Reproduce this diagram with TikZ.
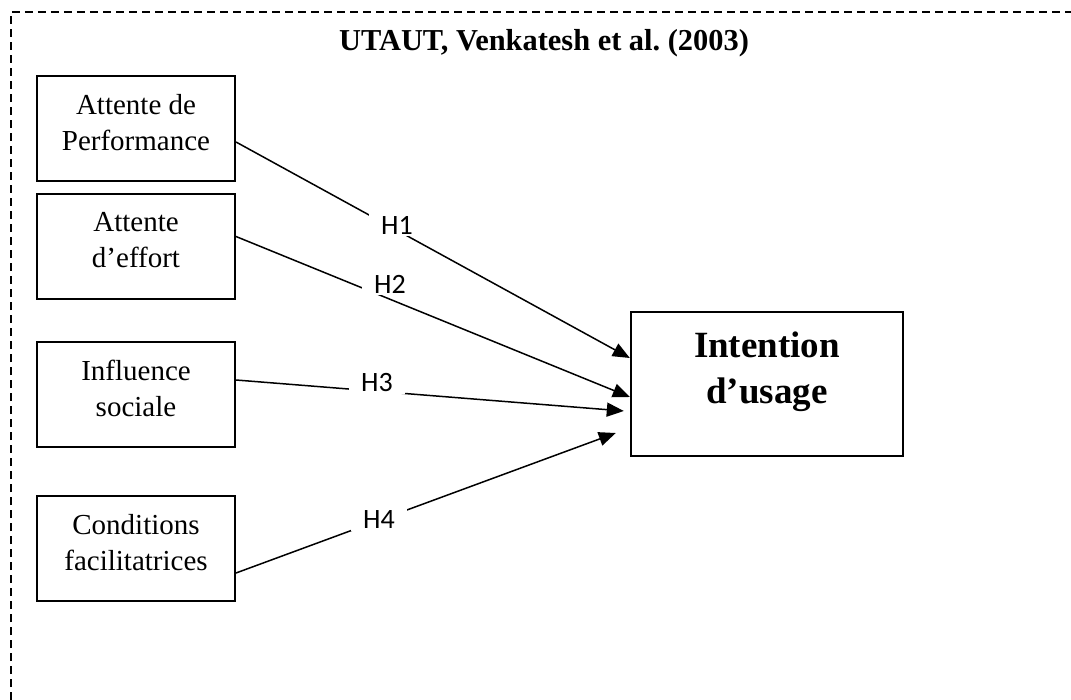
\documentclass[tikz,border=0pt]{standalone}
\usepackage{fontspec}
\setmainfont{Liberation Serif}
\newfontfamily\hypfont{Carlito}
\usetikzlibrary{arrows.meta}
\tikzset{
  cadre/.style={draw,line width=1pt,minimum width=99pt,minimum height=52.5pt,inner sep=0pt},
  texte/.style={align=center,font=\fontsize{14.5}{18}\selectfont},
  fleche/.style={-{Triangle[length=8.5pt,width=7pt]},line width=0.75pt},
  hyp/.style={fill=white,inner xsep=6pt,inner ysep=1pt,font=\hypfont\fontsize{14}{16}\selectfont},
}
\newcommand{\facteur}[3]{\node[cadre] (#1) at (#2) {};
  \node[texte] (#1txt) at ([yshift=3pt]#1.center) {#3};}

\begin{document}
\begin{tikzpicture}[x=0.5pt,y=-0.5pt]
\useasboundingbox (0,0) rectangle (1071,700);
% ---- cadre pointille (ouvert a droite et en bas) ----
\draw[line width=1pt,dash pattern=on 4pt off 2.5pt] (11,700) -- (11,12) -- (1080,12);
\node[font=\fontsize{15.2}{18}\selectfont\bfseries] (titre) at (544,43) {UTAUT, Venkatesh et al.\ (2003)};
% ---- facteurs ----
\facteur{perf}{136,128.5}{Attente de\\Performance}
\facteur{effort}{136,246.5}{Attente\\d’effort}
\facteur{social}{136,394.5}{Influence\\sociale}
\facteur{cond}{136,548.5}{Conditions\\facilitatrices}
% variable expliquee
\node[draw,line width=1.2pt,minimum width=136pt,minimum height=72pt] (usage) at (767,384) {};
\node[align=center,font=\fontsize{18.5}{23}\selectfont\bfseries] (usagetxt) at ([yshift=6pt]usage.center) {Intention\\d’usage};
% ---- hypotheses ----
\coordinate (t1) at ([yshift=13pt]usage.west);
\coordinate (t2) at ([yshift=-6.5pt]usage.west);
\coordinate (t3) at ([xshift=-3pt,yshift=-13.5pt]usage.west);
\coordinate (t4) at ([xshift=-7pt,yshift=-24.5pt]usage.west);
\draw[fleche] ([yshift=-6.75pt]perf.east) -- (t1);
\draw[fleche] ([yshift=5pt]effort.east) -- (t2);
\draw[fleche] ([yshift=7.25pt]social.east) -- (t3);
\draw[fleche] ([yshift=-12.25pt]cond.east) -- (t4);
\node[hyp] (h1) at (397,225) {H1};
\node[hyp] (h2) at (390,284) {H2};
\node[hyp] (h3) at (377,383) {H3};
\node[hyp] (h4) at (379,520) {H4};
\end{tikzpicture}
\end{document}
